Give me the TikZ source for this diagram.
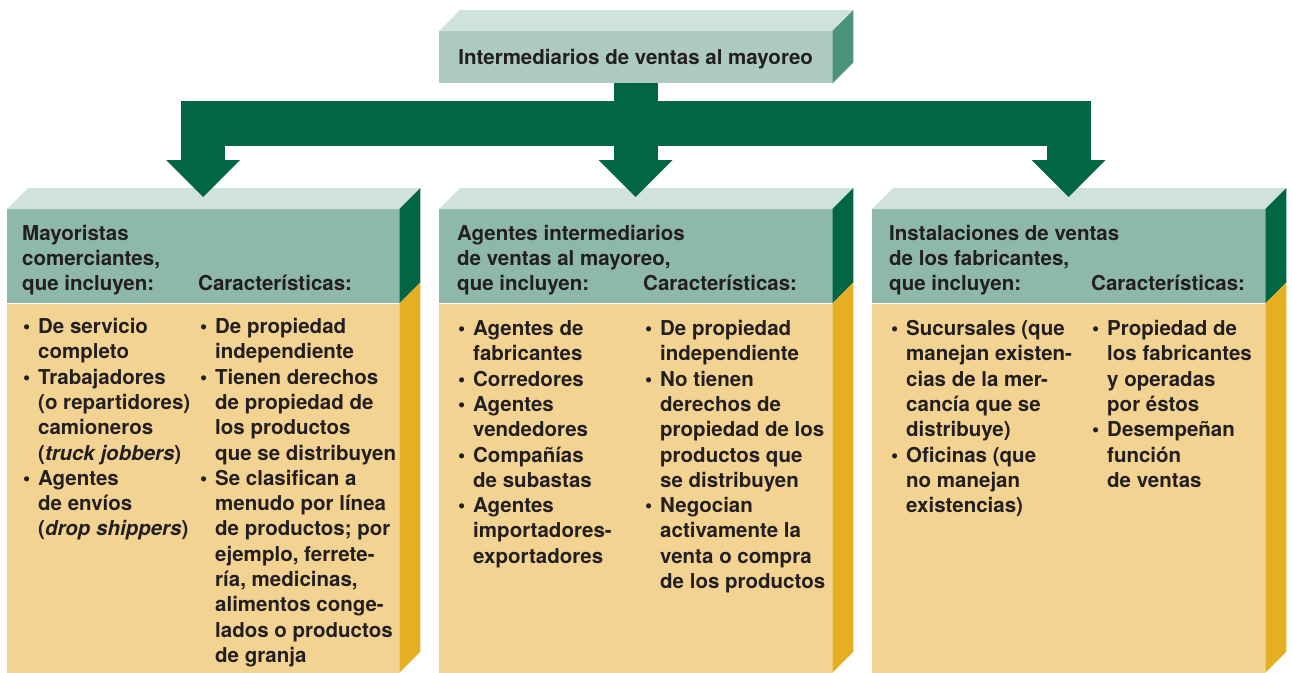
\documentclass[tikz,border=0pt]{standalone}
\usepackage{fontspec}
\setmainfont{TeX Gyre Heros}
\usetikzlibrary{calc}

\definecolor{lite}{HTML}{D0E3DA}
\definecolor{hdrfront}{HTML}{ACCABD}
\definecolor{hdrside}{HTML}{4C9479}
\definecolor{head}{HTML}{8EB8A7}
\definecolor{dkgreen}{HTML}{006643}
\definecolor{body}{HTML}{F3D392}
\definecolor{gold}{HTML}{E6AF22}
\definecolor{ink}{HTML}{231F20}

\newcommand\bodyfont{\fontsize{20.5}{25.3}\selectfont\bfseries}
\newcommand\headfont{\fontsize{20.5}{24.8}\selectfont\bfseries}
% list with bullets, one row per printed line
\newcommand\itemlist[1]{\begin{tabular}[t]{@{}p{15pt}@{}l@{}}#1\end{tabular}}
\newcommand\lines[1]{\begin{tabular}[t]{@{}l@{}}#1\end{tabular}}
\newcommand\bul{\textbullet}
% 3d faces of a box
\newcommand\topface[1]{\fill[lite] (#1.north west) -- ++(21,-21) -- ($(#1.north east)+(21,-21)$) -- (#1.north east) -- cycle;}
\newcommand\sideface[2]{\fill[#2] (#1.north east) -- ++(21,-21) -- ($(#1.south east)+(21,-21)$) -- (#1.south east) -- cycle;}

\tikzset{
  face/.style={anchor=north west, inner sep=0pt, minimum width=393pt},
  hd/.style={anchor=base west, inner sep=0pt, text=ink, font=\headfont},
  txt/.style={anchor=base west, inner sep=0pt, text=ink, font=\bodyfont},
  trunk/.style={draw=dkgreen, line width=44pt},
}

\begin{document}
\begin{tikzpicture}[x=1pt,y=-1pt]
\useasboundingbox (0,0) rectangle (1292,672);

% top box
\node[face, fill=hdrfront, minimum height=52pt, text=ink, font=\headfont,
  text height=14.5pt, text depth=0pt] (hdr) at (439,31) {Intermediarios de ventas al mayoreo};
\topface{hdr}
\sideface{hdr}{hdrside}

% the three boxes
\node[face, fill=head, minimum width=392pt, minimum height=94pt] (merc) at (7,209) {};
\node[face, fill=body, minimum width=392pt, minimum height=369pt] (mercb) at (merc.south west) {};
\node[face, fill=head, minimum height=94pt] (agen) at (439,209) {};
\node[face, fill=body, minimum height=369pt] (agenb) at (agen.south west) {};
\node[face, fill=head, minimum height=94pt] (inst) at (872,209) {};
\node[face, fill=body, minimum height=369pt] (instb) at (inst.south west) {};
\foreach \b in {merc,agen,inst}{
  \topface{\b}
  \sideface{\b}{dkgreen}
  \sideface{\b b}{gold}
}

% Mayoristas comerciantes
\node[hd] (merc-t) at (22,240.5) {\lines{Mayoristas\\comerciantes,\\que incluyen:}};
\node[hd] (merc-c) at (198,290.5) {Características:};
\node[txt] (merc-l) at (23,333.5) {\itemlist{\bul & De servicio\\ & completo\\
  \bul & Trabajadores\\ & (o repartidores)\\ & camioneros\\ & (\textit{truck jobbers})\\
  \bul & Agentes\\ & de envíos\\ & (\textit{drop shippers})}};
\node[txt] (merc-r) at (200,333.5) {\itemlist{\bul & De propiedad\\ & independiente\\
  \bul & Tienen derechos\\ & de propiedad de\\ & los productos\\ & que se distribuyen\\
  \bul & Se clasifican a\\ & menudo por línea\\ & de productos; por\\ & ejemplo, ferrete-\\
  & ría, medicinas,\\ & alimentos conge-\\ & lados o productos\\ & de granja}};

% Agentes intermediarios
\node[hd] (agen-t) at (457,240.5) {\lines{Agentes intermediarios\\de ventas al mayoreo,\\que incluyen:}};
\node[hd] (agen-c) at (643,290.5) {Características:};
\node[txt] (agen-l) at (458,335.5) {\itemlist{\bul & Agentes de\\ & fabricantes\\
  \bul & Corredores\\ \bul & Agentes\\ & vendedores\\ \bul & Compañías\\ & de subastas\\
  \bul & Agentes\\ & importadores-\\ & exportadores}};
\node[txt] (agen-r) at (645,335.5) {\itemlist{\bul & De propiedad\\ & independiente\\
  \bul & No tienen\\ & derechos de\\ & propiedad de los\\ & productos que\\ & se distribuyen\\
  \bul & Negocian\\ & activamente la\\ & venta o compra\\ & de los productos}};

% Instalaciones de ventas
\node[hd] (inst-t) at (889,240.5) {\lines{Instalaciones de ventas\\de los fabricantes,\\que incluyen:}};
\node[hd] (inst-c) at (1091,290.5) {Características:};
\node[txt] (inst-l) at (891,335.5) {\itemlist{\bul & Sucursales (que\\ & manejan existen-\\
  & cias de la mer-\\ & cancía que se\\ & distribuye)\\
  \bul & Oficinas (que\\ & no manejan\\ & existencias)}};
\node[txt] (inst-r) at (1092,335.5) {\itemlist{\bul & Propiedad de\\ & los fabricantes\\
  & y operadas\\ & por éstos\\ \bul & Desempeñan\\ & función\\ & de ventas}};

% green arrow
\coordinate (bar) at (0,123.5);
\draw[trunk] (hdr.south) -- ([yshift=49pt]agen.north);
\draw[trunk, line width=45pt] ($(merc.north |- bar)+(-22,0)$) -- ($(inst.north |- bar)+(22,0)$);
\draw[trunk] (merc.north |- bar) -- ([yshift=49pt]merc.north);
\draw[trunk] (inst.north |- bar) -- ([yshift=49pt]inst.north);
\foreach \b in {merc,agen,inst}
  \fill[dkgreen] ([yshift=12pt]\b.north) -- ++(-37,-37) -- ++(74,0) -- cycle;
\end{tikzpicture}
\end{document}
